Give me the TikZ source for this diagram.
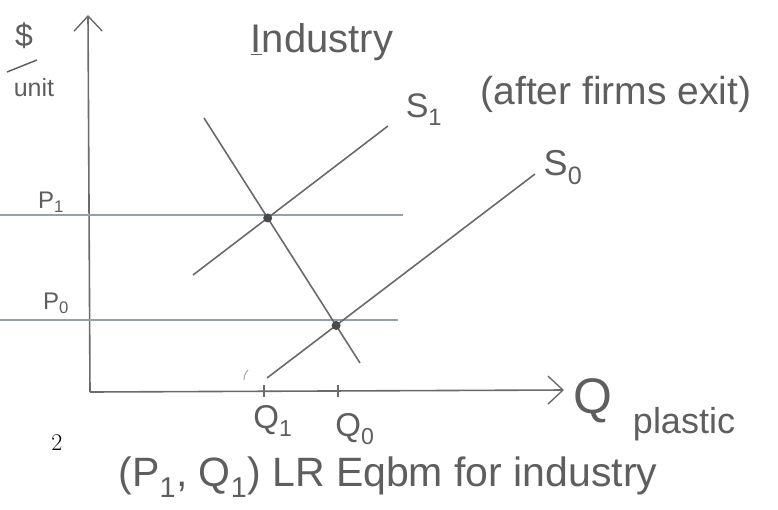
\documentclass[tikz,border=0pt]{standalone}
\usepackage{fontspec}
\newfontfamily\hand{Liberation Sans}
\usetikzlibrary{arrows.meta}
\definecolor{pencil}{HTML}{5E5E5E}
\definecolor{axisgray}{HTML}{6A6A6A}
\definecolor{guide}{HTML}{93A2A8}
\tikzset{
  axisline/.style={draw=axisgray, line width=1.6pt, -{Straight Barb[length=15pt,width=28pt,line width=1.4pt]}},
  curve/.style={draw=axisgray, line width=1.6pt},
  guideline/.style={draw=guide, line width=1.2pt},
  tick/.style={draw=axisgray, line width=1.4pt},
  hand/.style={text=pencil, inner sep=0pt, font=\hand\fontsize{#1}{#1}\selectfont},
  hand/.default=22,
  eqdot/.style={circle, fill=pencil!80!black, inner sep=0pt, minimum size=9pt},
}
\begin{document}
\begin{tikzpicture}[x=1pt,y=-1pt]
\useasboundingbox (0,0) rectangle (778,509);
% axes
\coordinate (origin) at (90,392);
\coordinate (ytop) at (88,15);
\coordinate (xend) at (564,390);
\draw[axisline] (origin) -- (ytop);
\draw[axisline] (origin) -- (xend);
% price guides
\coordinate (p1a) at (0,215);
\coordinate (p1b) at (403,215);
\coordinate (p0a) at (0,320);
\coordinate (p0b) at (398,320);
\draw[guideline] (p1a) -- (p1b);
\draw[guideline] (p0a) -- (p0b);
% demand and supplies
\coordinate (d1) at (204,118);
\coordinate (d2) at (360,363);
\coordinate (s1a) at (193,275);
\coordinate (s1b) at (388,126);
\coordinate (s0a) at (267,378);
\coordinate (s0b) at (535,174);
\draw[curve] (d1) -- (d2);
\draw[curve] (s1a) -- (s1b);
\draw[curve] (s0a) -- (s0b);
\node[eqdot] (e1) at (intersection of d1--d2 and s1a--s1b) {};
\node[eqdot] (e0) at (intersection of d1--d2 and s0a--s0b) {};
% stray pencil mark
\coordinate (m1) at (248,370);
\coordinate (m2) at (244,380);
\draw[draw=axisgray!60, line width=1pt] (m1) to[bend right=20] (m2);
% ticks
\coordinate (t1a) at (264,385);
\coordinate (t1b) at (264,397);
\coordinate (t0a) at (338,385);
\coordinate (t0b) at (338,397);
\draw[tick] (t1a) -- (t1b);
\draw[tick] (t0a) -- (t0b);
% labels
\node[hand=32] (dollar) at (24,36) {\$};
\coordinate (fr1) at (7,72);
\coordinate (fr2) at (37,60);
\draw[draw=pencil, line width=1.4pt] (fr1) -- (fr2);
\node[hand=25] (unit) at (34,88) {unit};
\node[hand=40] (industry) at (322,42) {\underline{I}ndustry};
\node[hand=34] (s1lab) at (424,110) {S\textsubscript{1}};
\node[hand=39] (exit) at (616,94) {(after firms exit)};
\node[hand=36] (s0lab) at (563,168) {S\textsubscript{0}};
\node[hand=24] (p1lab) at (51,202) {P\textsubscript{1}};
\node[hand=24] (p0lab) at (56,303) {P\textsubscript{0}};
\node[hand=33] (q1lab) at (273,421) {Q\textsubscript{1}};
\node[hand=33] (q0lab) at (355,429) {Q\textsubscript{0}};
\node[hand=50] (qlab) at (593,401) {Q};
\node[hand=36] (plastic) at (684,424) {plastic};
\node[inner sep=0pt, font=\rmfamily\fontsize{24}{24}\selectfont] (page) at (57,443) {2};
\node[hand=41] (caption) at (388,477) {(P\textsubscript{1}, Q\textsubscript{1}) LR Eqbm for industry};
\end{tikzpicture}
\end{document}
